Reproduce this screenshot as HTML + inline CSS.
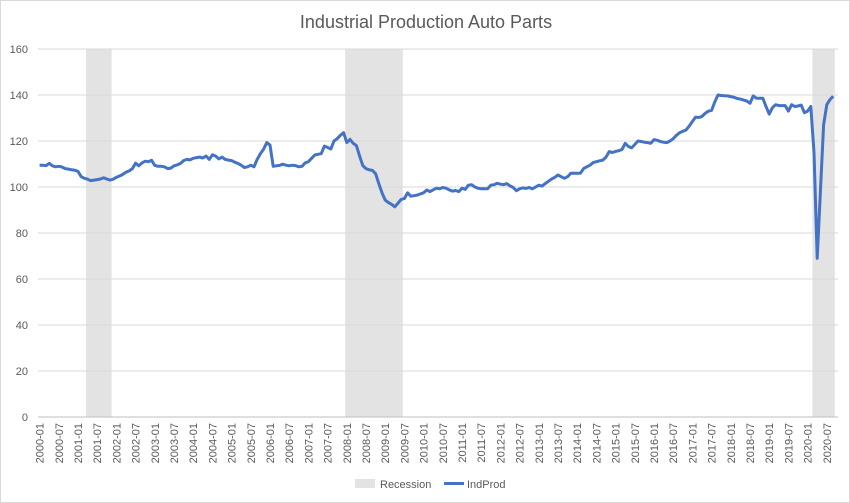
<!DOCTYPE html>
<html><head><meta charset="utf-8"><style>
body{margin:0;background:#fff;}
svg{display:block;font-family:"Liberation Sans",sans-serif;}
</style></head><body>
<svg id="chart" width="850" height="503">
<rect x="0.5" y="0.5" width="849" height="502" fill="#fff" stroke="#d9d9d9"/>
<text x="426" y="28" text-anchor="middle" font-size="18" fill="#595959">Industrial Production Auto Parts</text>
<g id="rec"></g>
<g id="grid"></g>
<g id="ylab"></g>
<g id="xlab"></g>
<g id="series"></g>
<g>
<rect x="355" y="479" width="20" height="9" fill="#e3e3e3"/>
<text x="380" y="488" font-size="11" fill="#595959">Recession</text>
<line x1="444" y1="483.5" x2="464" y2="483.5" stroke="#4472c4" stroke-width="3"/>
<text x="467" y="488" font-size="11" fill="#595959">IndProd</text>
</g>
</svg>
<script>
const startYear = 2000;
const yTicks = [0,20,40,60,80,100,120,140,160];
const recessionMonths = [[15,22],[96,113],[242,248]];
const indProd = [
109.5,109.5,109.3,110.3,109.2,108.8,109,108.7,108,107.8,107.5,107.3,
106.8,104.5,103.8,103.4,102.8,103,103.2,103.5,104,103.5,103,103.4,
104.2,104.8,105.5,106.5,107,108,110.4,109.2,110.5,111.2,111,111.6,
109.4,109,109,108.8,108,108.2,109.2,109.6,110.2,111.5,112,111.8,
112.5,112.8,113,112.6,113.5,112,114,113.5,112.2,113,112,111.7,
111.5,110.8,110.2,109.5,108.5,108.8,109.5,108.8,112,114.5,116.5,119.3,
118.2,109,109.2,109.4,109.9,109.5,109.2,109.5,109.3,108.8,109,110.5,
111,112.5,113.9,114.2,114.5,117.8,117.2,116.5,120,121,122.5,123.6,
119.3,120.7,119,118,113.5,109.3,108,107.5,107.2,105.8,101.5,97.5,
94.3,93.2,92.5,91.4,93,94.6,95,97.5,96,96.2,96.5,97,
97.5,98.7,98,98.8,99.5,99.2,99.8,99.5,98.8,98.2,98.5,98,
99.5,99,100.8,101,100,99.5,99.2,99.2,99.2,100.8,101,101.6,
101.2,101,101.5,100.5,99.8,98.4,99.2,99.6,99.4,99.8,99.2,100,
100.8,100.4,101.5,102.5,103.5,104.2,105.2,104.5,103.8,104.5,106,106,
106,106,108,108.8,109.5,110.6,111,111.4,111.7,113,115.4,115,
115.5,115.8,116.3,119,117.6,117,118.5,120,119.8,119.5,119.3,119,
120.6,120.3,119.8,119.5,119.3,120,121,122.5,123.6,124.2,124.8,126.5,
128.5,130.4,130.2,130.7,132,133,133.3,137,140,139.8,139.7,139.6,
139.3,139,138.5,138.2,137.8,137.4,136.4,139.6,138.6,138.6,138.6,135,
131.7,134.5,135.8,135.4,135.4,135.4,133,135.8,135,135.2,135.6,132.3,
133,135,115,69,98,127,135.8,138,139.5
];
const NS='http://www.w3.org/2000/svg';
const X0=38, STEP=3.2, Y0=417, YS=2.3;
function xL(i){return X0+STEP*i;}
function xC(i){return X0+STEP*(i+0.5);}
function yV(v){return Y0-YS*v;}
function mk(t,a,p){const e=document.createElementNS(NS,t);for(const k in a)e.setAttribute(k,a[k]);p.appendChild(e);return e;}
const rec=document.getElementById('rec');
recessionMonths.forEach(r=>{
  const e=mk('rect',{x:xL(r[0]),y:yV(160),width:xL(r[1]+1)-xL(r[0]),height:YS*160,fill:'#e3e3e3'},rec);
  
  
});
const grid=document.getElementById('grid'), ylab=document.getElementById('ylab');
yTicks.forEach(v=>{
  const l=mk('line',{x1:X0,x2:X0+800,y1:yV(v),y2:yV(v),stroke:v===0?'#bfbfbf':'#d9d9d9','stroke-width':1},grid);
  
  
  const t=mk('text',{x:28,y:yV(v)+4,'text-anchor':'end','font-size':11,fill:'#595959'},ylab);
  t.textContent=v;
  
  
});
const xlab=document.getElementById('xlab');
for(let i=0;i<indProd.length;i+=6){
  const y=startYear+Math.floor(i/12), m=i%12+1;
  const x=xC(i)+4;
  const t=mk('text',{x:x,y:423,'text-anchor':'end','font-size':11,fill:'#595959',transform:'rotate(-90 '+x+' 423)'},xlab);
  t.textContent=y+'-'+(m<10?'0':'')+m;
  
  
}
const pts=indProd.map((v,i)=>xC(i).toFixed(1)+','+yV(v).toFixed(1)).join(' ');
const pl=mk('polyline',{points:pts,fill:'none',stroke:'#4472c4','stroke-width':3,'stroke-linejoin':'round'},document.getElementById('series'));


</script>
</body></html>
